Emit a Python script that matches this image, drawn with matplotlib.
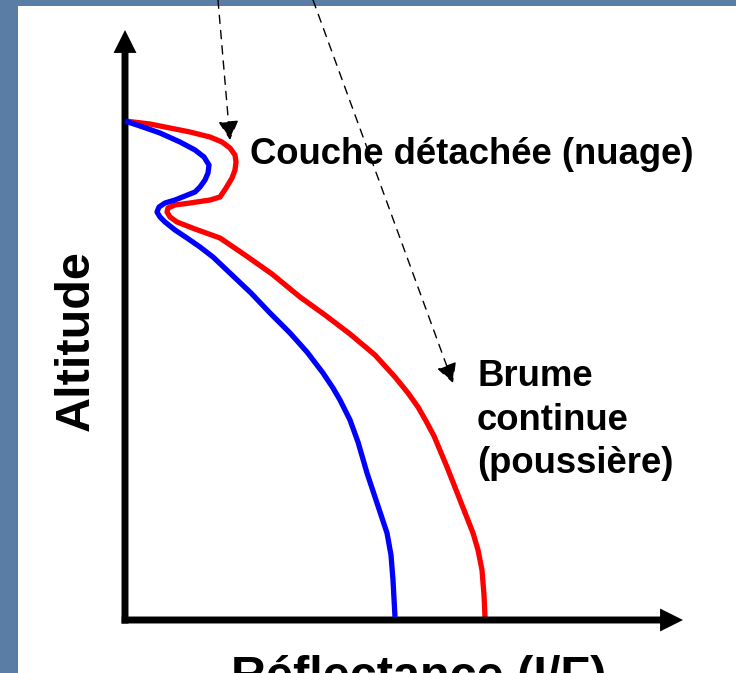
import matplotlib
matplotlib.use("Agg")
import matplotlib.pyplot as plt
from matplotlib.patches import Rectangle

# reflectance and altitude in arbitrary units (x axis 0..558, y axis 0..590)
blue_x = [0, 15, 35, 55, 70, 79, 84, 83, 80, 75, 70, 60, 50, 40, 34, 32, 35, 40,
          50, 62, 75, 88, 107, 126, 145, 165, 182, 198, 208, 215, 225, 233,
          242, 252, 262, 266, 268, 270]
blue_y = [499, 494, 487, 478, 470, 463, 455, 447, 440, 433, 428, 424, 420, 417,
          413, 408, 403, 398, 390, 382, 373, 363, 345, 327, 307, 287, 268, 247,
          232, 220, 200, 178, 147, 117, 87, 65, 40, 3]

red_x = [0, 25, 45, 65, 85, 97, 105, 110, 111, 110, 107, 101, 95, 85, 65, 50,
         43, 42, 45, 52, 70, 95, 120, 147, 175, 200, 225, 250, 270, 283, 293,
         301, 309, 322, 335, 348, 353, 357, 359, 360]
red_y = [499, 496, 492, 488, 483, 478, 472, 465, 458, 450, 442, 432, 423, 420,
         417, 415, 412, 408, 403, 398, 391, 382, 365, 346, 323, 305, 286, 265,
         243, 227, 213, 199, 184, 153, 120, 87, 70, 50, 25, 3]

label_cloud = "Couche détachée (nuage)"
label_haze = "Brume\ncontinue\n(poussière)"
xlabel = "Réflectance (I/F)"
ylabel = "Altitude"

W, H = 736, 673
fig = plt.figure(figsize=(W / 100, H / 100), dpi=100)
fig.patch.set_facecolor("#5a7da6")
fig.patches.append(Rectangle((18 / W, 0), 1, 1 - 6 / H, transform=fig.transFigure,
                             facecolor="white", edgecolor="none", zorder=-5))

ax = fig.add_axes([125 / W, (H - 620) / H, 558 / W, 590 / H])
ax.set_xlim(0, 558)
ax.set_ylim(0, 590)
ax.set_facecolor("none")
for s in ax.spines.values():
    s.set_visible(False)
ax.set_xticks([])
ax.set_yticks([])

# axes drawn as arrows (filled, no outline)
arr = dict(width=5, headwidth=16.5, headlength=16.5, facecolor="black",
           edgecolor="none", lw=0, shrink=0)
ax.annotate("", xy=(0, 1), xytext=(0, -0.006), xycoords="axes fraction", arrowprops=arr)
ax.annotate("", xy=(1, 0), xytext=(-0.006, 0), xycoords="axes fraction", arrowprops=arr)

ax.plot(blue_x, blue_y, color="#0000ff", lw=3.8, solid_joinstyle="round",
        solid_capstyle="butt", clip_on=False, zorder=3)
ax.plot(red_x, red_y, color="#ff0000", lw=3.8, solid_joinstyle="round",
        solid_capstyle="butt", clip_on=False, zorder=2)

# dashed pointer arrows coming from above
dash = dict(arrowstyle="-|>,head_length=0.85,head_width=0.45", lw=1.0, color="black",
            linestyle=(0, (6, 5)), shrinkA=0, shrinkB=0, mutation_scale=14)
ax.annotate("", xy=(105, 480), xytext=(218 / W, 1.0), textcoords="figure fraction",
            arrowprops=dash, annotation_clip=False)
ax.annotate("", xy=(328, 237), xytext=(313 / W, 1.0), textcoords="figure fraction",
            arrowprops=dash, annotation_clip=False)

font = "Liberation Sans"
ax.text(125, 465, label_cloud, fontsize=26.3, fontweight="bold", family=font,
        ha="left", va="center")
ax.text(352, 200, label_haze, fontsize=26.3, fontweight="bold", family=font,
        ha="left", va="center", linespacing=1.3)

fig.text(76 / W, 1 - 341 / H, ylabel, fontsize=35, fontweight="bold", family=font,
         rotation=90, ha="center", va="center")
fig.text(419 / W, 1 - 655 / H, xlabel, fontsize=35, fontweight="bold", family=font,
         ha="center", va="top")

fig.savefig("out.png", dpi=100, facecolor=fig.get_facecolor())
